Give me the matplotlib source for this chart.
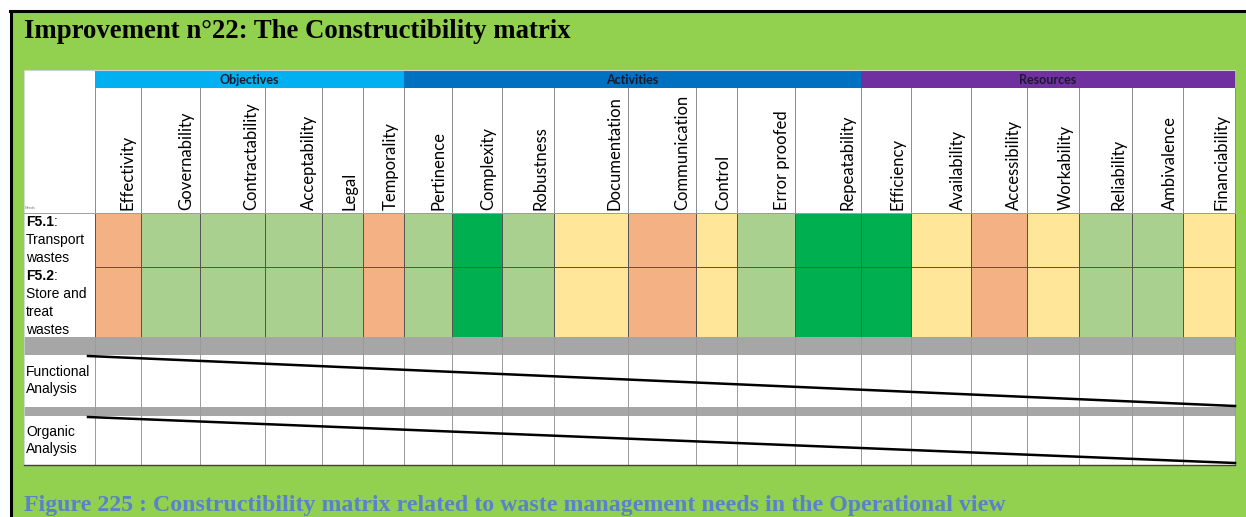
import matplotlib.pyplot as plt
from matplotlib.colors import ListedColormap
import numpy as np

# groups of criteria and their columns
groups = ['Objectives', 'Activities', 'Resources']
group_sizes = [6, 8, 7]
group_colors = ['#00b0f0', '#0070c0', '#7030a0']

criteria = ['Effectivity', 'Governability', 'Contractability', 'Acceptability', 'Legal',
            'Temporality', 'Pertinence', 'Complexity', 'Robustness', 'Documentation',
            'Communication', 'Control', 'Error proofed', 'Repeatability', 'Efficiency',
            'Availability', 'Accessibility', 'Workability', 'Reliability', 'Ambivalence',
            'Financiability']

needs = ['F5.1', 'F5.2']
needs_text = [['Transport', 'wastes'], ['Store and', 'treat', 'wastes']]

# ratings: 0 = orange, 1 = yellow, 2 = light green, 3 = dark green
f51 = [0, 2, 2, 2, 2, 0, 2, 3, 2, 1, 0, 1, 2, 3, 3, 1, 0, 1, 2, 2, 1]
f52 = [0, 2, 2, 2, 2, 0, 2, 3, 2, 1, 0, 1, 2, 3, 3, 1, 0, 1, 2, 2, 1]
rating_colors = ['#f4b183', '#ffe699', '#a9d08e', '#00b050']

analyses = [['Functional', 'Analysis'], ['Organic', 'Analysis']]

# layout (pixels)
col_edges = [95, 141, 200, 265, 322, 363, 404, 452, 502, 554, 628, 696, 737, 795,
             861, 911, 971, 1027, 1079, 1132, 1183, 1235]
left = 24
grp_top, grp_bot = 70, 88
head_bot = 213
row_edges = [213, 267, 337]
bands = [(337, 355), (407, 416)]
white_rows = [(355, 407), (416, 465)]

fig = plt.figure(figsize=(12.46, 5.17), dpi=100)
fig.patch.set_facecolor('white')
ax = fig.add_axes([0, 0, 1, 1])
ax.set_xlim(0, 1246)
ax.set_ylim(517, 0)
ax.axis('off')

# green page with black border
ax.add_patch(plt.Rectangle((10, 11), 1240, 520, facecolor='#92d050', edgecolor='none', zorder=0))
ax.plot([10, 1246], [11, 11], color='black', lw=2.2, zorder=1)
ax.plot([10.5, 10.5], [11, 517], color='black', lw=2.2, zorder=1)

ax.text(24, 31, 'Improvement n°22: The Constructibility matrix', fontsize=19.3,
        fontweight='bold', family='Liberation Serif', va='center', ha='left')
ax.text(24, 516, 'Figure 225 : Constructibility matrix related to waste management needs in the Operational view',
        fontsize=17.2, fontweight='bold', family='Liberation Serif', color='#5a82c8',
        va='bottom', ha='left')

right = col_edges[-1]
# table background
ax.add_patch(plt.Rectangle((left, grp_top), right - left, white_rows[-1][1] - grp_top,
                           facecolor='white', edgecolor='none', zorder=1))

# group header bars
start = 0
for g, n, c in zip(groups, group_sizes, group_colors):
    x0, x1 = col_edges[start], col_edges[start + n]
    ax.add_patch(plt.Rectangle((x0, grp_top), x1 - x0, grp_bot - grp_top,
                               facecolor=c, edgecolor='none', zorder=2))
    ax.text((x0 + x1) / 2, (grp_top + grp_bot) / 2 + 1, g, fontsize=9, fontweight='bold',
            family='Lato', color='#1a1a2e', ha='center', va='center', zorder=3)
    start += n
ax.plot([left, right], [grp_top, grp_top], color='#d0d0d0', lw=0.8, zorder=3)

# criteria labels
for i, name in enumerate(criteria):
    ax.text(col_edges[i + 1] - 13.5, 210, name, rotation=90, fontsize=12,
            family='Lato', ha='center', va='bottom', zorder=3)
ax.text(left + 1, 210, 'Needs', fontsize=2.5, color='#777777', va='bottom', zorder=3)

# rating cells
cmap = ListedColormap(rating_colors)
ax.pcolormesh(col_edges, row_edges, np.array([f51, f52]), cmap=cmap, vmin=-0.5, vmax=3.5,
              edgecolors='#555555', linewidth=0.5, zorder=2)

# gray bands
for y0, y1 in bands:
    ax.add_patch(plt.Rectangle((left, y0), right - left, y1 - y0,
                               facecolor='#a6a6a6', edgecolor='none', zorder=2))

# vertical grid lines in header, bands and white rows
for x in col_edges:
    ax.plot([x, x], [grp_bot, head_bot], color='#8c8c8c', lw=0.7, zorder=3)
    ax.plot([x, x], [bands[0][0], white_rows[-1][1]], color='#9a9a9a', lw=0.7, zorder=3)
ax.plot([left, left], [grp_top, white_rows[-1][1]], color='#d0d0d0', lw=0.6, zorder=3)
ax.plot([left, right], [head_bot, head_bot], color='#a0a0a0', lw=0.7, zorder=3)
ax.plot([left, right], [white_rows[-1][1], white_rows[-1][1]], color='#404040', lw=1.0, zorder=3)

# needs labels
fig.canvas.draw()
r = fig.canvas.get_renderer()
for k, (nd, lines) in enumerate(zip(needs, needs_text)):
    y = row_edges[k] + 9
    t = ax.text(26, y, nd, fontsize=10, fontweight='bold', family='Liberation Sans',
                va='center', ha='left', zorder=3)
    bb = t.get_window_extent(r)
    ax.text(26 + bb.width, y, ':', fontsize=10, family='Liberation Sans',
            va='center', ha='left', zorder=3)
    for j, line in enumerate(lines):
        ax.text(26, y + 18 * (j + 1), line, fontsize=10, family='Liberation Sans',
                va='center', ha='left', zorder=3)

for (y0, y1), lines in zip(white_rows, analyses):
    mid = (y0 + y1) / 2
    ax.text(26, mid - 8.5, lines[0], fontsize=10, family='Liberation Sans', va='center', zorder=3)
    ax.text(26, mid + 8.5, lines[1], fontsize=10, family='Liberation Sans', va='center', zorder=3)

# strike-through diagonals over the unused rows
ax.plot([88, right], [white_rows[0][0] + 1, bands[1][0] - 1], color='black', lw=1.8, zorder=4)
ax.plot([88, right], [white_rows[1][0] + 1, white_rows[1][1] - 2], color='black', lw=1.8, zorder=4)

fig.savefig('out.png', dpi=100)
